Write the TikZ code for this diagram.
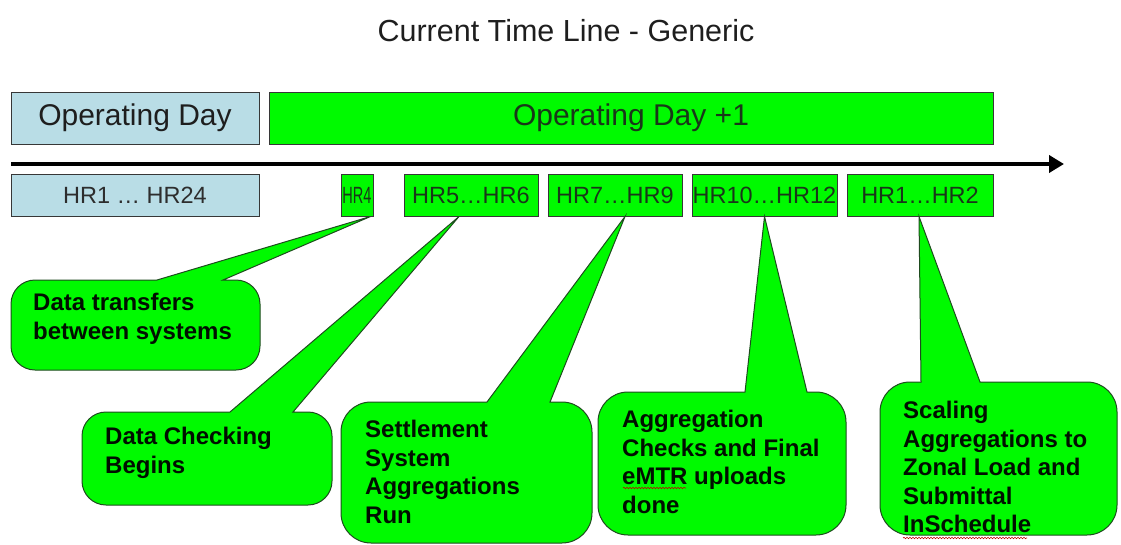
\documentclass[tikz,border=0pt]{standalone}
\usepackage{graphicx}
\usepackage{fontspec}
\setmainfont{Liberation Sans}
\usetikzlibrary{arrows.meta,decorations.pathmorphing}
\definecolor{hgreen}{RGB}{0,250,0}
\definecolor{hblue}{RGB}{185,221,230}
\definecolor{hborder}{RGB}{55,55,55}
\definecolor{bborder}{RGB}{30,75,30}
\definecolor{gtext}{RGB}{25,55,25}
\definecolor{btext}{RGB}{45,45,45}
\definecolor{ttext}{RGB}{30,30,30}
\newcommand\callout[8]{%
  \filldraw[balloon] (#5,#2) -- (#7) -- (#6,#2) -- ({#3-#8},#2)
    .. controls ({#3-0.4477*#8},#2) and (#3,{#2+0.4477*#8}) .. (#3,{#2+#8})
    -- (#3,{#4-#8})
    .. controls (#3,{#4-0.4477*#8}) and ({#3-0.4477*#8},#4) .. ({#3-#8},#4)
    -- ({#1+#8},#4)
    .. controls ({#1+0.4477*#8},#4) and (#1,{#4-0.4477*#8}) .. (#1,{#4-#8})
    -- (#1,{#2+#8})
    .. controls (#1,{#2+0.4477*#8}) and ({#1+0.4477*#8},#2) .. ({#1+#8},#2)
    -- cycle;}
\begin{document}
\begin{tikzpicture}[x=1pt,y=-1pt,
  hbox/.style={draw=hborder, line width=1pt, inner sep=0pt, font=\fontsize{23.5}{28}\selectfont},
  bluebox/.style={hbox, fill=hblue, text=btext},
  greenbox/.style={hbox, fill=hgreen, text=gtext},
  balloon/.style={fill=hgreen, draw=bborder, line width=1pt, line join=miter},
  btxt/.style={anchor=north west, inner sep=0pt, align=left, text=black!85!green!40!black,
    font=\bfseries\fontsize{24}{28.5}\selectfont},
  squig/.style={draw=red!75!black, line width=0.6pt, decorate,
    decoration={snake, amplitude=0.7pt, segment length=3pt}},
  timeline/.style={line width=4.5pt, -{Triangle[length=15pt,width=17pt]}}]
\useasboundingbox (0,0) rectangle (1121,544);

\node[anchor=base, text=ttext, inner sep=0pt, font=\fontsize{30.5}{35}\selectfont] (title) at (566,41) {Current Time Line - Generic};

\node[bluebox, minimum width=248pt, minimum height=52pt, font=\fontsize{30}{34}\selectfont, text=ttext] (od) at (135,118) {Operating Day};
\node[greenbox, minimum width=724pt, minimum height=52pt, font=\fontsize{30}{34}\selectfont, text=gtext] (od1) at (631,118) {Operating Day +1};

\coordinate (a0) at (11,164);
\coordinate (a1) at (1064,164);
\draw[timeline] (a0) -- (a1);

\node[bluebox, minimum width=248pt, minimum height=42pt] (hra) at (135,195) {HR1 … HR24};
\node[greenbox, minimum width=32pt, minimum height=42pt] (hr4) at (357,195) {\scalebox{0.62}[1]{HR4}};
\node[greenbox, minimum width=134pt, minimum height=42pt] (hr56) at (471,195) {HR5…HR6};
\node[greenbox, minimum width=134pt, minimum height=42pt] (hr79) at (615,195) {HR7…HR9};
\node[greenbox, minimum width=145pt, minimum height=42pt] (hr1012) at (764.5,195) {HR10…HR12};
\node[greenbox, minimum width=146pt, minimum height=42pt] (hr12) at (920,195) {HR1…HR2};

\coordinate (tip1) at ([xshift=-3pt]hr4.south east);
\coordinate (tip2) at ([xshift=-12pt]hr56.south);
\coordinate (tip3) at ([xshift=10pt]hr79.south);
\coordinate (tip4) at (hr1012.south);
\coordinate (tip5) at ([xshift=-1pt]hr12.south);

\callout{11}{280}{260}{370}{157}{223}{tip1}{24}
\callout{82}{412}{332}{505}{230}{293}{tip2}{24}
\callout{341}{402}{592}{543}{487}{550}{tip3}{30}
\callout{598}{392}{846}{535}{745}{807}{tip4}{30}
\callout{880}{382}{1117}{535}{921}{980}{tip5}{30}

\node[btxt] (t1) at (33,293) {Data transfers\\between systems};
\node[btxt] (t2) at (105,427) {Data Checking\\Begins};
\node[btxt] (t3) at (365,420) {Settlement\\System\\Aggregations\\Run};
\node[btxt] (t4) at (622,410) {Aggregation\\Checks and Final\\eMTR uploads\\done};
\node[btxt] (t5) at (903,401) {Scaling\\Aggregations to\\Zonal Load and\\Submittal\\InSchedule};

\draw[squig] (623,488) -- (686,488);
\draw[squig] (903,538) -- (1027,538);
\end{tikzpicture}
\end{document}
